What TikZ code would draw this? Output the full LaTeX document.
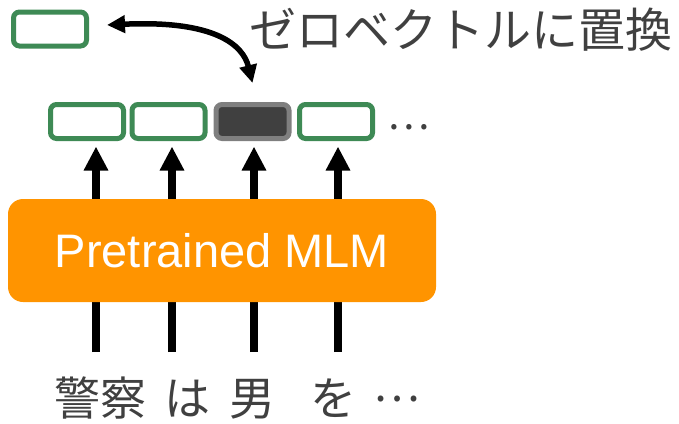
\documentclass[tikz,border=0pt]{standalone}
\usepackage{fontspec}
\setmainfont{Liberation Sans}
\newfontfamily\jpfont{Noto Sans CJK JP}
\usetikzlibrary{arrows.meta}
\definecolor{vecgreen}{HTML}{3E8A55}
\definecolor{maskgray}{HTML}{7F7F7F}
\definecolor{maskfill}{HTML}{404040}
\definecolor{mlmorange}{HTML}{FF9400}
\definecolor{txtgray}{HTML}{404040}
\tikzset{
  x=1pt, y=-1pt,
  vecbox/.style={draw=vecgreen, line width=5pt, fill=white, rounded corners=6pt,
    minimum width=73pt, minimum height=34pt, inner sep=0pt},
  maskbox/.style={vecbox, draw=maskgray, fill=maskfill},
  uparrow/.style={line width=8pt, -{Triangle[width=23pt,length=24pt]}, shorten >=5.5pt},
  jptext/.style={font=\jpfont\fontsize{46}{50}\selectfont, text=txtgray, inner sep=0pt, anchor=base},
  dotstext/.style={jptext, anchor=center, font=\jpfont\fontsize{40}{44}\selectfont}
}
\begin{document}
\begin{tikzpicture}
\useasboundingbox (0,0) rectangle (679,423);

% replacement vector and the row of output vectors
\node[vecbox] (zero) at (50,29) {};
\node[vecbox] (v1) at (87,121.5) {};
\node[vecbox] (v2) at (168.5,121.5) {};
\node[maskbox] (v3) at (252.5,121.5) {};
\node[vecbox] (v4) at (336,121.5) {};
\node[dotstext] (vdots) at (409,127) {…};

% caption of the swap
\node[jptext, font=\jpfont\fontsize{47}{50}\selectfont] (cap) at (461,47) {ゼロベクトルに置換};

% input words
\node[jptext] (w1) at (100,415) {警察};
\node[jptext] (w2) at (187,415) {は};
\node[jptext] (w3) at (252,415) {男};
\node[jptext] (w4) at (333,415) {を};
\node[dotstext, font=\jpfont\fontsize{44}{48}\selectfont] (w5) at (397,399) {…};

% arrows from the inputs to the outputs
\coordinate (s1) at (96,352);
\coordinate (s2) at (172,352);
\coordinate (s3) at (254,352);
\coordinate (s4) at (338,352);
\draw[uparrow] (s1) -- (s1 |- v1.south);
\draw[uparrow] (s2) -- (s2 |- v2.south);
\draw[uparrow] (s3) -- (s3 |- v3.south);
\draw[uparrow] (s4) -- (s4 |- v4.south);

% the model
\node[fill=mlmorange, rounded corners=15pt, minimum width=428pt, minimum height=103pt,
      inner sep=0pt, text=white, font=\fontsize{47}{50}\selectfont] (mlm) at (222,250.5) {Pretrained MLM};

% swap arrow
\coordinate (sw) at (107,25);
\draw[line width=5.5pt, {Triangle[width=17pt,length=18pt]}-{Triangle[width=17pt,length=18pt]}]
  (sw) .. controls (215,20) and (243,45) .. (v3.north |- 0,83);
\end{tikzpicture}
\end{document}
